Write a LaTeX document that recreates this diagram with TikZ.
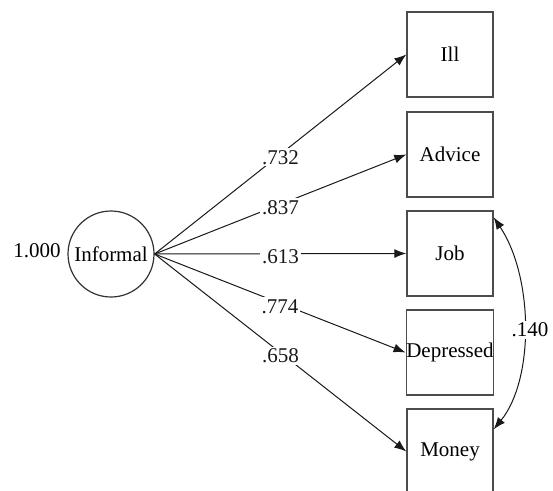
\documentclass[tikz,border=0pt]{standalone}
\usepackage{fontspec}
\setmainfont{Liberation Serif}
\usetikzlibrary{arrows.meta}

\tikzset{
  latent/.style={circle, draw=black!80, line width=1.2pt, minimum size=86pt, inner sep=0pt},
  observed/.style={rectangle, draw=black!70, line width=1.4pt, minimum width=86pt, minimum height=85pt, inner sep=0pt},
  path/.style={-{Latex[length=12pt,width=9pt]}, line width=1pt, black!90},
  cov/.style={{Latex[length=12pt,width=9pt]}-{Latex[length=12pt,width=9pt]}, line width=1pt, black!90},
  coef/.style={midway, fill=white, inner sep=2pt, yshift=-3pt},
}

\begin{document}
\begin{tikzpicture}[x=1pt, y=-1pt, font=\fontsize{21}{25}\selectfont]
  \clip (0,0) rectangle (553,490);
  \fill[white] (0,0) rectangle (553,490);

  % latent factor and its variance
  \node[latent] (inf) at (111,254) {Informal};
  \node (var) at (37,251) {1.000};

  % indicators
  \node[observed] (ill)   at (450,54.5)  {Ill};
  \node[observed] (adv)   at (450,154.5) {Advice};
  \node[observed] (job)   at (450,253.5) {Job};
  \node[observed] (dep)   at (450,352.5) {Depressed};
  \node[observed] (money) at (450,451.5) {Money};

  % loadings
  \draw[path] (inf.east) -- (ill.west)   node[coef] {.732};
  \draw[path] (inf.east) -- (adv.west)   node[coef] {.837};
  \draw[path] (inf.east) -- (job.west)   node[coef] {.613};
  \draw[path] (inf.east) -- (dep.west)   node[coef] {.774};
  \draw[path] (inf.east) -- (money.west) node[coef] {.658};

  % residual covariance between Job and Money
  \draw[cov] ([yshift=-7pt]job.north east) .. controls (534,278) and (534,380) .. ([yshift=-21pt]money.north east);
  \node[fill=white, inner sep=2pt] (rcov) at (530,330) {.140};
\end{tikzpicture}
\end{document}
